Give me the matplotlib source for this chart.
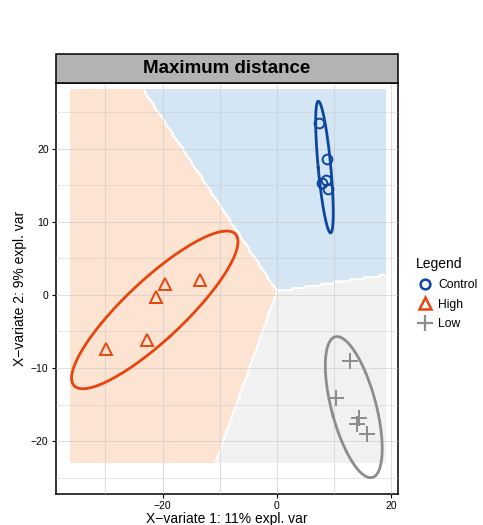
import numpy as np
import matplotlib
matplotlib.use("Agg")
import matplotlib.pyplot as plt
from matplotlib.lines import Line2D
from matplotlib.patches import Rectangle

plt.rcParams["font.family"] = ["Liberation Sans", "DejaVu Sans"]

# sample scores on the two X-variates
control_x = [7.4, 8.7, 7.9, 8.6, 8.9]
control_y = [23.5, 18.6, 15.3, 15.7, 14.5]
high_x = [-29.9, -22.7, -21.2, -19.6, -13.4]
high_y = [-7.4, -6.1, -0.3, 1.5, 2.1]
low_x = [12.8, 10.3, 14.4, 13.9, 15.7]
low_y = [-9.1, -14.1, -16.8, -17.7, -19.1]

groups = ["Control", "High", "Low"]
colors = ["#0B46A0", "#E8450E", "#8C8C8C"]
bg_colors = ["#D4E5F3", "#FDE4D2", "#F1F1F1"]

# linear prediction scores (max distance) used for the background: a*x + b*y + c
score_a = [-0.164, -1.17, 0.0]
score_b = [1.386, 0.535, 0.0]
score_c = [-0.693, -0.2675, 0.0]
bg_xrange = [-36.0, 18.9]
bg_yrange = [-22.9, 28.35]

xlabel = "X\u2212variate 1: 11% expl. var"
ylabel = "X\u2212variate 2: 9% expl. var"
title = "Maximum distance"

fig = plt.figure(figsize=(4.83, 5.25), dpi=100)
ax = fig.add_axes([0.115, 0.059, 0.709, 0.783])

# background prediction
gx = np.arange(bg_xrange[0], bg_xrange[1] + 1e-9, 0.3)
gy = np.arange(bg_yrange[0], bg_yrange[1] + 1e-9, 0.3)
GX, GY = np.meshgrid(gx, gy)
scores = np.stack([a * GX + b * GY + c for a, b, c in zip(score_a, score_b, score_c)])
label = np.argmax(scores, axis=0)
for k in range(3):
    ind = (label == k).astype(float)
    ax.contourf(GX, GY, ind, levels=[0.5, 1.5], colors=[bg_colors[k]], zorder=1)
for k in range(3):
    ind = (label == k).astype(float)
    ax.contour(GX, GY, ind, levels=[0.5], colors="white", linewidths=1.3, zorder=2)

# grid
for v in [-30, -20, -10, 0, 10, 20]:
    ax.axvline(v, color="#C8C8C8", lw=0.7, alpha=0.6, zorder=3)
for v in [-25, -20, -15, -10, -5, 0, 5, 10, 15, 20, 25]:
    ax.axhline(v, color="#C8C8C8", lw=0.7 if v % 10 == 0 else 0.5, alpha=0.6, zorder=3)

# points and 95% ellipses
chi = np.sqrt(5.991)
t = np.linspace(0, 2 * np.pi, 200)
data = [(control_x, control_y), (high_x, high_y), (low_x, low_y)]
markers = ["o", "^", "+"]
msizes = [7, 8, 11]
for (xs, ys), col, m, ms in zip(data, colors, markers, msizes):
    pts = np.column_stack([xs, ys])
    mu = pts.mean(axis=0)
    cov = np.cov(pts.T)
    vals, vecs = np.linalg.eigh(cov)
    circ = np.stack([np.cos(t), np.sin(t)])
    ell = vecs @ (np.sqrt(vals)[:, None] * circ) * chi + mu[:, None]
    ax.plot(ell[0], ell[1], color=col, lw=2, zorder=4)
    if m == "+":
        ax.plot(xs, ys, m, color=col, ms=ms, mew=1.4, zorder=5)
    else:
        ax.plot(xs, ys, m, color=col, ms=ms, mfc="none", mew=1.4, zorder=5)

ax.set_xlim(-38.7, 21.15)
ax.set_ylim(-27.26, 29.04)
ax.set_xticks([-20, 0, 20])
ax.set_yticks([-20, -10, 0, 10, 20])
ax.set_xticklabels(["\u221220", "0", "20"])
ax.set_yticklabels(["\u221220", "\u221210", "0", "10", "20"])
ax.tick_params(labelsize=7.5, length=3, width=0.8, pad=2, colors="black")
for s in ax.spines.values():
    s.set_linewidth(1.1)
ax.set_xlabel(xlabel, fontsize=10, labelpad=1)
ax.set_ylabel(ylabel, fontsize=10, labelpad=3)

# facet strip
strip = Rectangle((0.115, 0.842), 0.709, 29 / 525, transform=fig.transFigure,
                  facecolor="#B3B3B3", edgecolor="black", lw=1.1)
fig.patches.append(strip)
fig.text(0.115 + 0.709 / 2, 0.842 + 14.5 / 525, title, ha="center", va="center",
         fontsize=13.5, fontweight="bold")

# legend
handles = [
    Line2D([], [], marker="o", ls="none", color=colors[0], mfc="none", ms=7, mew=1.8),
    Line2D([], [], marker="^", ls="none", color=colors[1], mfc="none", ms=8, mew=1.8),
    Line2D([], [], marker="+", ls="none", color=colors[2], ms=11, mew=1.6),
]
leg = fig.legend(handles, groups, title="Legend", loc="upper left",
                 bbox_to_anchor=(405 / 483, 1 - 246 / 525), frameon=False,
                 fontsize=8.7, title_fontsize=10, handletextpad=0.35,
                 labelspacing=0.65, alignment="left", handlelength=1.5)

fig.savefig("out.png", dpi=100)
